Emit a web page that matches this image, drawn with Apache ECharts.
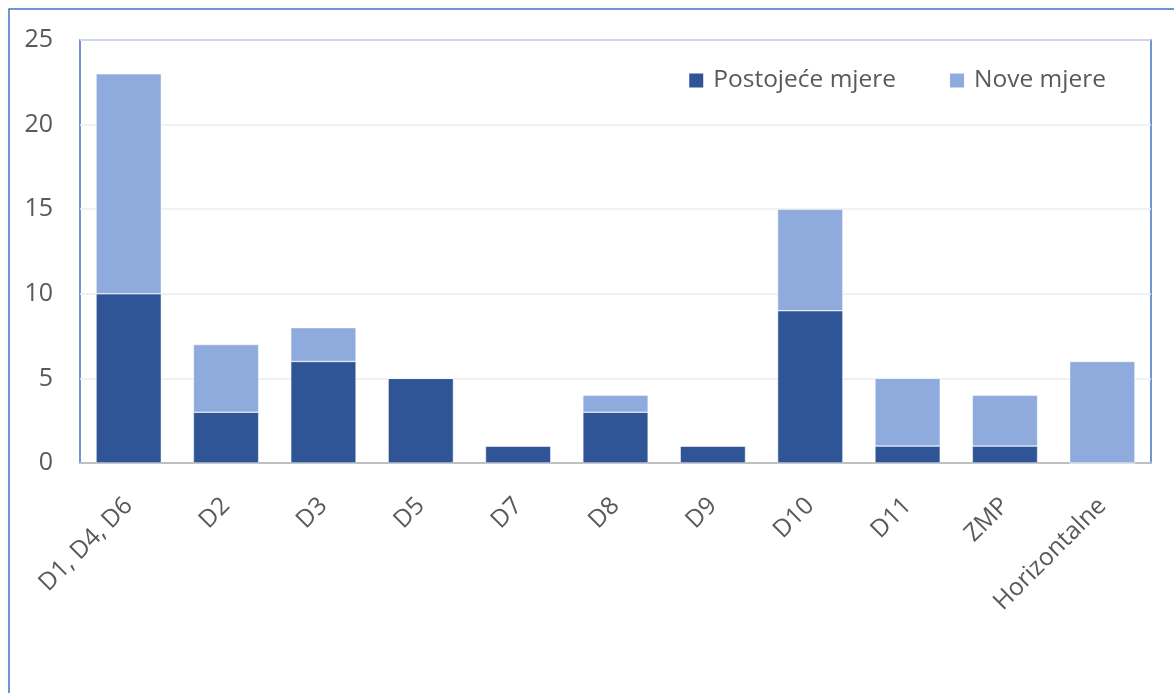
<!DOCTYPE html>
<html><head><meta charset="utf-8">
<script src="https://cdn.jsdelivr.net/npm/echarts@6/dist/echarts.min.js"></script>
<style>html,body{margin:0;padding:0;background:#fff}#c{width:1174px;height:693px}</style>
</head><body><div id="c"></div>
<script>
const categories = ['D1, D4, D6','D2','D3','D5','D7','D8','D9','D10','D11','ZMP','Horizontalne'];
const postojece = [10,3,6,5,1,3,1,9,1,1,0];
const nove = [13,4,2,0,0,1,0,6,4,3,6];
const yTicks = [0,5,10,15,20,25];
const FONT = 'Open Sans';
const chart = echarts.init(document.getElementById('c'));
chart.setOption({
  animation:false,
  textStyle:{fontFamily:FONT},
  graphic:[{type:'rect',shape:{x:9,y:9,width:1300,height:1000},style:{fill:'none',stroke:'#4472C4',lineWidth:1.5},z:-1}],
  legend:{
    data:['Postojeće mjere','Nove mjere'],
    right:63, top:63, itemWidth:16, itemHeight:16, itemGap:52,
    icon:'rect',
    textStyle:{fontFamily:FONT,fontSize:24.5,color:'#595959',padding:[0,0,0,4]}
  },
  grid:{left:80,right:23,top:40,bottom:230,show:true,borderColor:'#4472C4',borderWidth:1.5,containLabel:false},
  xAxis:{
    type:'category',data:categories,
    axisLine:{lineStyle:{color:'#bfbfbf',width:2}},
    axisTick:{show:false},
    axisLabel:{rotate:45,fontSize:24.5,color:'#595959',margin:39,fontFamily:FONT,interval:0}
  },
  yAxis:{
    type:'value',min:0,max:25,interval:5,
    axisLine:{show:false},axisTick:{show:false},
    splitLine:{lineStyle:{color:'#ececec',width:1.5}},
    axisLabel:{fontSize:25,color:'#595959',margin:27,fontFamily:FONT,
      formatter:v=>yTicks.includes(v)?String(v):''}
  },
  series:[
    {name:'Postojeće mjere',type:'bar',stack:'a',data:postojece,barWidth:'67%',
     itemStyle:{color:'#2F5597',borderColor:'#ffffff',borderWidth:0.5}},
    {name:'Nove mjere',type:'bar',stack:'a',data:nove,barWidth:'67%',
     itemStyle:{color:'#8FAADC',borderColor:'#ffffff',borderWidth:0.5}}
  ]
});
</script></body></html>
